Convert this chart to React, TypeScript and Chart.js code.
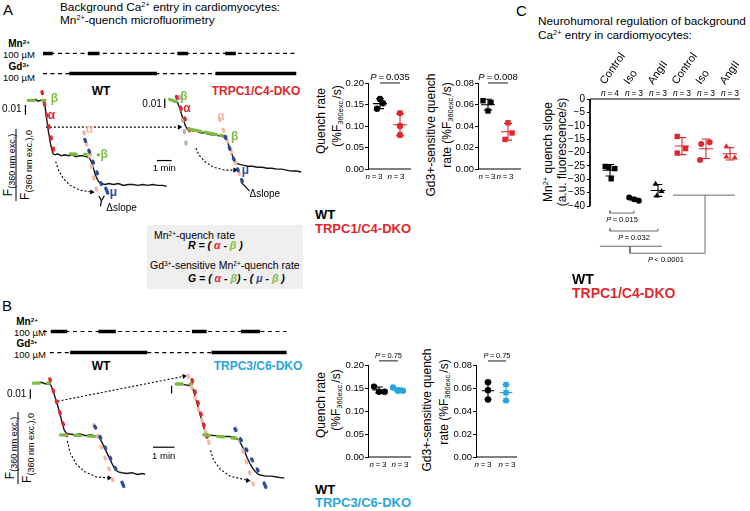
import React, { useEffect, useRef } from 'react';
import { Chart, registerables } from 'chart.js';

Chart.register(...registerables);

const FONT = '"Liberation Sans", Arial, Helvetica, sans-serif';
Chart.defaults.font.family = FONT;
Chart.defaults.color = '#000';

const RED = '#e2262b';
const CYAN = '#27a5df';
const GREEN = '#7bbd44';
const PINK = '#f5b8a4';
const BLUE = '#2c4b9b';
const LGRAY = '#b5b5b5';
const BRK = '#6a6a6a';

type Pt = [number, number];

// ================= DATA =================
// Panels A/B dot plots: quench rates (%F360exc./s)
const abN = [3, 3];
const aQuenchWT = [0.140, 0.163, 0.153];
const aQuenchDKO = [0.130, 0.100, 0.079];
const aGdWT = [0.0635, 0.062, 0.054];
const aGdDKO = [0.043, 0.0335, 0.0275];
const aQuenchP = '0.035';
const aGdP = '0.008';
const bQuenchWT = [0.153, 0.142, 0.142];
const bQuenchDKO = [0.151, 0.144, 0.144];
const bGdWT = [0.065, 0.058, 0.050];
const bGdDKO = [0.063, 0.056, 0.049];
const bQuenchP = '0.75';
const bGdP = '0.75';
const quenchTicks = [0, 0.05, 0.1, 0.15, 0.2];
const gdTicks = [0, 0.02, 0.04, 0.06, 0.08];

// Panel C: Mn2+ quench slope (a.u. fluorescence/s)
const cCategories = ['Control', 'Iso', 'AngII', 'Control', 'Iso', 'AngII'];
const cN = [4, 3, 3, 3, 3, 3];
const cWTControl = [-25.2, -25.5, -26.0, -29.8];
const cWTIso = [-36.8, -37.4, -38.0];
const cWTAngII = [-31.8, -34.5, -36.2];
const cDKOControl = [-14.0, -18.5, -20.2];
const cDKOIso = [-16.8, -16.2, -22.8];
const cDKOAngII = [-17.8, -21.6, -22.0];
const cTicks = [0, -5, -10, -15, -20, -25, -30, -35, -40];
const cPValues = ['= 0.015', '= 0.032', '< 0.0001'];

// Panel A traces: [time (s), F/F0]
const aTraceWT: Pt[] = [[20, 1.000], [30, 1.001], [40, 0.999], [50, 1.000], [60, 1.000], [66, 0.998], [70, 0.991], [74, 0.983], [78, 0.975], [82, 0.968], [86, 0.962], [90, 0.956], [94, 0.951], [98, 0.947], [102, 0.944], [110, 0.943], [120, 0.944], [135, 0.942], [150, 0.943], [165, 0.942], [180, 0.943], [195, 0.941], [210, 0.942], [225, 0.942], [240, 0.941], [250, 0.940], [256, 0.937], [262, 0.933], [268, 0.928], [274, 0.923], [280, 0.919], [286, 0.916], [292, 0.914], [300, 0.913], [315, 0.912], [330, 0.913], [350, 0.912], [370, 0.913], [390, 0.911], [410, 0.912], [430, 0.912], [450, 0.911], [470, 0.912], [490, 0.911], [510, 0.912], [530, 0.911], [550, 0.911], [568, 0.910]];
const aTraceDKO: Pt[] = [[580, 1.001], [592, 1.000], [604, 0.999], [612, 0.998], [620, 0.993], [628, 0.986], [636, 0.980], [644, 0.974], [652, 0.970], [660, 0.969], [675, 0.968], [690, 0.968], [705, 0.966], [720, 0.966], [735, 0.965], [750, 0.964], [765, 0.964], [780, 0.963], [795, 0.962], [808, 0.962], [816, 0.958], [824, 0.952], [832, 0.946], [840, 0.941], [848, 0.937], [856, 0.934], [868, 0.933], [885, 0.932], [900, 0.931], [920, 0.931], [940, 0.930], [960, 0.930], [980, 0.929], [1000, 0.929], [1020, 0.928], [1040, 0.928], [1060, 0.927], [1080, 0.926], [1100, 0.926], [1120, 0.925]];
// Panel A perfusion protocol (s)
const aMnSpan: Pt = [60, 1100];
const aMnPulses: Pt[] = [[60, 100], [244, 292], [612, 656], [808, 852]];
const aGdSpan: Pt = [60, 1100];
const aGdOn: Pt[] = [[168, 528], [768, 1100]];

// Panel B traces: [time (s), F/F0]
const bTraceWT: Pt[] = [[22, 1.000], [35, 1.001], [50, 0.999], [60, 0.999], [64, 0.997], [70, 0.990], [76, 0.982], [82, 0.974], [88, 0.965], [94, 0.955], [100, 0.946], [106, 0.942], [115, 0.941], [130, 0.940], [145, 0.941], [160, 0.939], [175, 0.940], [190, 0.938], [198, 0.937], [204, 0.933], [212, 0.926], [220, 0.919], [228, 0.912], [236, 0.905], [244, 0.899], [252, 0.897], [262, 0.896], [275, 0.895], [290, 0.896], [305, 0.894], [320, 0.895], [327, 0.894]];
const bTraceDKO: Pt[] = [[414, 0.999], [425, 0.999], [440, 0.998], [455, 0.997], [460, 0.994], [466, 0.986], [472, 0.977], [478, 0.968], [484, 0.959], [490, 0.950], [496, 0.942], [505, 0.940], [520, 0.939], [535, 0.939], [550, 0.938], [565, 0.938], [580, 0.937], [588, 0.934], [596, 0.929], [604, 0.922], [612, 0.914], [620, 0.907], [628, 0.901], [636, 0.897], [644, 0.894], [652, 0.893], [665, 0.892], [680, 0.892], [695, 0.891], [710, 0.890], [717, 0.890]];
const bMnSpan: Pt = [41, 723];
const bMnPulses: Pt[] = [[63, 109], [196, 245], [458, 499], [595, 649]];
const bGdSpan: Pt = [60, 723];
const bGdOn: Pt[] = [[117, 333], [513, 723]];

// slope-fit segments (time, F)
const aAlphaWT: Pt[] = [[56, 1.009], [108, 0.942]];
const aBeta1WT: Pt[] = [[0, 1.0], [68, 1.0]];
const aBeta2WT: Pt[] = [[172, 0.944], [288, 0.943]];
const aAlpha2WT: Pt[] = [[228, 0.967], [280, 0.906]];
const aMuWT: Pt[] = [[232, 0.959], [300, 0.912]];
const aMu2WT: Pt[] = [[318, 0.908], [326, 0.903]];
const aBeta1DKO: Pt[] = [[580, 1.001], [612, 0.998]];
const aGrayDKO: Pt[] = [[620, 1.004], [648, 0.954]];
const aAlphaDKO: Pt[] = [[608, 1.004], [668, 0.964]];
const aBeta2DKO: Pt[] = [[660, 0.970], [812, 0.962]];
const aAlpha2DKO: Pt[] = [[784, 0.981], [872, 0.919]];
const aMuDKO: Pt[] = [[808, 0.962], [888, 0.909]];

const bBeta1WT: Pt[] = [[14, 1.0], [60, 1.0]];
const bAlphaWT: Pt[] = [[60, 1.005], [110, 0.935]];
const bBeta2WT: Pt[] = [[90, 0.940], [196, 0.938]];
const bAlpha2WT: Pt[] = [[183, 0.952], [240, 0.883]];
const bMuWT: Pt[] = [[186, 0.950], [246, 0.899]];
const bMu2WT: Pt[] = [[262, 0.885], [267, 0.880]];
const bBeta1DKO: Pt[] = [[414, 0.999], [458, 0.999]];
const bAlphaDKO: Pt[] = [[458, 1.004], [505, 0.930]];
const bAlpha1bDKO: Pt[] = [[447, 1.009], [510, 0.925]];
const bBeta2DKO: Pt[] = [[491, 0.940], [581, 0.936]];
const bMuDKO: Pt[] = [[578, 0.947], [649, 0.894]];
const bMu2DKO: Pt[] = [[660, 0.884], [665, 0.879]];
const bAlpha2DKO: Pt[] = [[581, 0.948], [633, 0.878]];

// ================= HELPERS =================
const fnt = (size: number, bold = false, italic = false) =>
  `${italic ? 'italic ' : ''}${bold ? 'bold ' : ''}${size}px ${FONT}`;

type Part = { t: string; f: string; c?: string; dy?: number };
type TItem = { x: number; y: number; xs?: string; ys?: string; parts: Part[]; al?: 'left' | 'center' | 'right'; rot?: number; dx?: number; dyp?: number };

function textPlugin(items: TItem[]) {
  return {
    id: 'txt',
    afterDatasetsDraw(chart: any) {
      const ctx = chart.ctx;
      items.forEach((it) => {
        const px = chart.scales[it.xs || 'x'].getPixelForValue(it.x) + (it.dx || 0);
        const py = chart.scales[it.ys || 'y'].getPixelForValue(it.y) + (it.dyp || 0);
        ctx.save();
        ctx.translate(px, py);
        if (it.rot) ctx.rotate((it.rot * Math.PI) / 180);
        ctx.textBaseline = 'alphabetic';
        ctx.textAlign = 'left';
        const ws = it.parts.map((p) => { ctx.font = p.f; return ctx.measureText(p.t).width; });
        const tot = ws.reduce((a, b) => a + b, 0);
        let cx = it.al === 'center' ? -tot / 2 : it.al === 'right' ? -tot : 0;
        it.parts.forEach((p, i) => {
          ctx.font = p.f;
          ctx.fillStyle = p.c || '#000';
          ctx.fillText(p.t, cx, p.dy || 0);
          cx += ws[i];
        });
        ctx.restore();
      });
    },
  };
}

const xy = (pts: Pt[]) => pts.map(([x, y]) => ({ x, y }));

function baseOpts(extra: any) {
  return {
    responsive: false,
    animation: false,
    events: [],
    plugins: { legend: { display: false }, tooltip: { enabled: false } },
    elements: { line: { tension: 0 } },
    ...extra,
  };
}

function lineDS(data: any[], color: string, width: number, extra: any = {}) {
  return {
    type: 'line', data, borderColor: color, backgroundColor: color, borderWidth: width,
    pointRadius: 0, spanGaps: false, clip: false, fill: false, ...extra,
  };
}

// ---------- trace panels ----------
interface TraceSpec {
  top: number; W: number; H: number;
  x0: number; pxPerS: number; F0py: number; pxPerF: number;
  row0: number; rowStep: number;
  traces: Pt[][];
  protocol: { row: number; span: Pt; thick: Pt[] }[];
  marks: { pts: Pt[]; color: string; dash?: number[]; w?: number }[];
  arrows: { pts: Pt[]; rot: number }[];
  lines: Pt[][];
  texts: TItem[];
}

function traceCfg(s: TraceSpec) {
  const ds: any[] = [];
  s.protocol.forEach((p) => {
    ds.push(lineDS([{ x: p.span[0], y: p.row }, { x: p.span[1], y: p.row }], '#000', 1.2, { yAxisID: 'y2', borderDash: [4, 3.5] }));
    const d: any[] = [];
    p.thick.forEach(([a, b]) => d.push({ x: a, y: p.row }, { x: b, y: p.row }, { x: b, y: null }));
    ds.push(lineDS(d, '#000', 3.6, { yAxisID: 'y2' }));
  });
  s.traces.forEach((tr) => ds.push(lineDS(xy(tr), '#151515', 1.4)));
  s.lines.forEach((ln) => ds.push(lineDS(xy(ln), '#000', 1.2)));
  s.arrows.forEach((a) => ds.push(lineDS(xy(a.pts), '#000', 1.1, {
    borderDash: [2, 2],
    pointRadius: a.pts.map((_, i) => (i === a.pts.length - 1 ? 3 : 0)),
    pointStyle: 'triangle',
    pointRotation: a.pts.map(() => a.rot),
    pointBackgroundColor: '#000',
    pointBorderWidth: 0,
  })));
  s.marks.forEach((m) => ds.push(lineDS(xy(m.pts), m.color, m.w || 3.3, { borderDash: m.dash || [2, 9.5], borderCapStyle: 'round' })));
  const xmin = (0 - s.x0) / s.pxPerS;
  const xmax = (s.W - s.x0) / s.pxPerS;
  const ymax = 1 + (s.F0py - s.top) / s.pxPerF;
  const ymin = 1 - (s.top + s.H - s.F0py) / s.pxPerF;
  const y2min = (s.top - s.row0) / s.rowStep;
  const y2max = (s.top + s.H - s.row0) / s.rowStep;
  return {
    type: 'line',
    data: { datasets: ds.slice().reverse() },
    options: baseOpts({
      layout: { padding: 0 },
      scales: {
        x: { type: 'linear', display: false, min: xmin, max: xmax },
        y: { type: 'linear', display: false, min: ymin, max: ymax },
        y2: { type: 'linear', display: false, min: y2min, max: y2max, reverse: true },
      },
    }),
    plugins: [textPlugin(s.texts)],
  };
}

// ---------- dot plots ----------
function meanSD(v: number[]) {
  const m = v.reduce((a, b) => a + b, 0) / v.length;
  const sd = Math.sqrt(v.reduce((a, b) => a + (b - m) ** 2, 0) / (v.length - 1));
  return [m, sd];
}
function errData(i: number, vals: number[], hw: number, cw: number) {
  const [m, s] = meanSD(vals);
  return [
    { x: i - hw, y: m }, { x: i + hw, y: m }, { x: i, y: null },
    { x: i, y: m - s }, { x: i, y: m + s }, { x: i, y: null },
    { x: i - cw, y: m + s }, { x: i + cw, y: m + s }, { x: i, y: null },
    { x: i - cw, y: m - s }, { x: i + cw, y: m - s },
  ];
}
type Group = { vals: number[]; offs: number[]; color: string; style: string; r?: number; mc?: string };
const pointDS = (g: Group, i: number) => ({
  type: 'line', showLine: false, clip: false,
  data: g.vals.map((v, k) => ({ x: i + g.offs[k], y: v })),
  pointStyle: g.style, pointRadius: g.r || 3.2, pointBackgroundColor: g.color, pointBorderColor: g.color, pointBorderWidth: 0,
});

interface DotSpec {
  axisL: number; axisR: number; topPy: number; botPy: number; c0: number; c1: number;
  ticks: number[]; dec: number; groups: Group[];
  p: string; pLine: number; pSize: number; nSize: number; nDx: number[]; tickSize: number;
}
const dotGeom = (s: DotSpec) => ({ l: s.axisL - 40, t: s.topPy - 24, w: s.axisR - s.axisL + 44, h: s.botPy - s.topPy + 42 });
const TS = '\u2009';

function dotCfg(s: DotSpec) {
  const unit = s.c1 - s.c0;
  const xmin = (s.axisL - s.c0) / unit;
  const xmax = (s.axisR - s.c0) / unit;
  const ds: any[] = [];
  ds.push(lineDS([{ x: xmin, y: 0 }, { x: xmax, y: 0 }], '#000', 1));
  ds.push(lineDS([{ x: 0, y: s.pLine }, { x: 1, y: s.pLine }], '#000', 0.9));
  s.groups.forEach((g, i) => {
    ds.push(pointDS(g, i));
    ds.push(lineDS(errData(i, g.vals, 0.35, 0.2), g.mc || g.color, 1.1));
  });
  const texts: TItem[] = [
    { x: 0.5, y: s.pLine, dyp: -3, al: 'center', parts: [{ t: 'P', f: fnt(s.pSize, false, true) }, { t: `${TS}=${TS}${s.p}`, f: fnt(s.pSize) }] },
    ...abN.map((n, i) => ({ x: i, y: 0, dyp: 10, dx: s.nDx[i], al: 'center' as const, parts: [{ t: 'n', f: fnt(s.nSize, false, true) }, { t: `${TS}=${TS}${n}`, f: fnt(s.nSize) }] })),
  ];
  const yMax = s.ticks[s.ticks.length - 1];
  return {
    type: 'line',
    data: { datasets: ds },
    options: baseOpts({
      layout: { padding: { left: 10, right: 4, top: 24, bottom: 18 } },
      scales: {
        x: { type: 'linear', display: false, min: xmin, max: xmax },
        y: {
          type: 'linear', min: 0, max: yMax,
          afterFit: (sc: any) => { sc.width = 30; },
          afterBuildTicks: (sc: any) => { sc.ticks = s.ticks.map((v) => ({ value: v })); },
          ticks: { font: { size: s.tickSize }, color: '#000', padding: 1, callback: (v: any) => Number(v).toFixed(s.dec) },
          grid: { display: true, drawOnChartArea: false, drawTicks: true, tickLength: 3, color: '#000', lineWidth: 1 },
          border: { display: true, color: '#000', width: 1 },
        },
      },
    }),
    plugins: [textPlugin(texts)],
  };
}

// ---------- panel C ----------
const C_BOX = { l: 560, t: 40, w: 185, h: 235 };
function cCfg() {
  const c0 = 610, unit = 24, axisL = 590, axisR = 740;
  const xmin = (axisL - c0) / unit;
  const xmax = (axisR - c0) / unit;
  const groups: Group[] = [
    { vals: cWTControl, offs: [-0.2, -0.05, 0.2, 0.05], color: '#000', style: 'rect', r: 3.8 },
    { vals: cWTIso, offs: [-0.2, 0, 0.2], color: '#000', style: 'circle', r: 3, mc: '#888' },
    { vals: cWTAngII, offs: [-0.1, 0.15, -0.05], color: '#000', style: 'triangle', r: 3.4 },
    { vals: cDKOControl, offs: [-0.2, 0.15, -0.2], color: RED, style: 'rect', r: 3.8 },
    { vals: cDKOIso, offs: [-0.2, 0.15, -0.25], color: RED, style: 'circle', r: 3 },
    { vals: cDKOAngII, offs: [-0.15, -0.15, 0.2], color: RED, style: 'triangle', r: 3.4 },
  ];
  const ds: any[] = [];
  ds.push(lineDS([{ x: xmin, y: 0 }, { x: xmin, y: cTicks[cTicks.length - 1] }], '#000', 1));
  ds.push(lineDS([{ x: xmin, y: 0 }, { x: xmax, y: 0 }], '#000', 1));
  groups.forEach((g, i) => {
    ds.push(pointDS(g, i));
    ds.push(lineDS(errData(i, g.vals, 0.3, 0.18), g.mc || g.color, 1.1));
  });
  // significance brackets
  ds.push(lineDS(xy([[0, -41.7], [0, -42.6], [1, -42.6], [1, -41.7]]), BRK, 1));
  ds.push(lineDS(xy([[0, -48.4], [0, -49.3], [2, -49.3], [2, -48.4]]), BRK, 1));
  ds.push(lineDS(xy([[-0.42, -55], [2.17, -55]]), BRK, 1));
  ds.push(lineDS(xy([[0.83, -55], [0.83, -57.6], [3.96, -57.6], [3.96, -35.9]]), BRK, 1));
  ds.push(lineDS(xy([[2.63, -35.9], [5.2, -35.9]]), BRK, 1));
  const ps = 7.5;
  const texts: TItem[] = [
    ...cCategories.map((c, i) => ({ x: i, y: 0, dx: -5, dyp: -14, rot: -55, parts: [{ t: c, f: fnt(11) }] })),
    ...cN.map((n, i) => ({ x: i, y: 0, dyp: -3, al: 'center' as const, parts: [{ t: 'n', f: fnt(8.5, false, true) }, { t: `${TS}=${TS}${n}`, f: fnt(8.5) }] })),
    { x: 0.5, y: -45.9, al: 'center', parts: [{ t: 'P', f: fnt(ps, false, true) }, { t: `${TS}${cPValues[0]}`, f: fnt(ps) }] },
    { x: 1.0, y: -52.6, al: 'center', parts: [{ t: 'P', f: fnt(ps, false, true) }, { t: `${TS}${cPValues[1]}`, f: fnt(ps) }] },
    { x: 2.33, y: -60.8, al: 'center', parts: [{ t: 'P', f: fnt(ps, false, true) }, { t: `${TS}${cPValues[2]}`, f: fnt(ps) }] },
  ];
  return {
    type: 'line',
    data: { datasets: ds },
    options: baseOpts({
      layout: { padding: { left: 0, right: 5, top: 59, bottom: 10 } },
      scales: {
        x: { type: 'linear', display: false, min: xmin, max: xmax },
        y: {
          type: 'linear', min: -62, max: 0,
          afterFit: (sc: any) => { sc.width = 30; },
          afterBuildTicks: (sc: any) => { sc.ticks = cTicks.map((v) => ({ value: v })); },
          ticks: { font: { size: 10 }, color: '#000', padding: 2, callback: (v: any) => (Number(v) === 0 ? '0' : '\u2212' + Math.abs(Number(v))) },
          grid: { display: true, drawOnChartArea: false, drawTicks: true, tickLength: 3, color: '#000', lineWidth: 1 },
          border: { display: false },
        },
      },
    }),
    plugins: [textPlugin(texts)],
  };
}

// ---------- specs ----------
const greek = (t: string, c: string, x: number, y: number): TItem => ({ x, y, parts: [{ t, f: fnt(12, true), c }] });

const A_TRACE: TraceSpec = {
  top: 38, W: 310, H: 182, x0: 25, pxPerS: 0.25, F0py: 99, pxPerF: 1000, row0: 50, rowStep: 21,
  traces: [aTraceWT, aTraceDKO],
  protocol: [{ row: 0, span: aMnSpan, thick: aMnPulses }, { row: 1, span: aGdSpan, thick: aGdOn }],
  marks: [
    { pts: aBeta1WT, color: GREEN, dash: [6, 8] },
    { pts: aAlphaWT, color: RED },
    { pts: aBeta2WT, color: GREEN, dash: [6, 8] },
    { pts: aAlpha2WT, color: PINK },
    { pts: aMuWT, color: BLUE },
    { pts: aMu2WT, color: BLUE, dash: [] },
    { pts: aBeta1DKO, color: GREEN, dash: [7, 5] },
    { pts: aGrayDKO, color: LGRAY },
    { pts: aAlphaDKO, color: RED },
    { pts: aBeta2DKO, color: GREEN, dash: [12, 4] },
    { pts: aAlpha2DKO, color: PINK },
    { pts: aMuDKO, color: BLUE },
  ],
  arrows: [
    { pts: [[72, 0.972], [620, 0.972]], rot: 90 },
    { pts: [[112, 0.936], [124, 0.927], [144, 0.918], [172, 0.911], [212, 0.906], [260, 0.904]], rot: 95 },
    { pts: [[688, 0.950], [700, 0.943], [724, 0.936], [760, 0.930], [808, 0.927], [848, 0.927]], rot: 90 },
  ],
  lines: [
    [[-12, 0.995], [-12, 0.985]],
    [[560, 1.002], [560, 0.992]],
    [[528, 0.937], [588, 0.937]],
    [[290, 0.900], [300, 0.895]], [[312, 0.900], [300, 0.895]], [[300, 0.895], [296, 0.889]],
    [[872, 0.915], [908, 0.905]],
  ],
  texts: [
    { x: -28, y: 0.988, al: 'right', parts: [{ t: '0.01', f: fnt(10) }] },
    { x: 548, y: 0.993, al: 'right', parts: [{ t: '0.01', f: fnt(10) }] },
    { x: 558, y: 0.926, al: 'center', parts: [{ t: '1 min', f: fnt(9.5) }] },
    greek('β', GREEN, 92, 0.998),
    greek('α', RED, 80, 0.980),
    greek('α', PINK, 236, 0.966),
    greek('β', GREEN, 296, 0.940),
    greek('μ', BLUE, 334, 0.900),
    { x: 320, y: 0.884, parts: [{ t: 'Δslope', f: fnt(10) }] },
    greek('β', GREEN, 624, 1.0),
    greek('α', RED, 636, 0.988),
    greek('α', PINK, 776, 0.979),
    greek('β', GREEN, 832, 0.958),
    greek('μ', BLUE, 876, 0.923),
    { x: 908, y: 0.899, parts: [{ t: 'Δslope', f: fnt(10) }] },
  ],
};

const B_TRACE: TraceSpec = {
  top: 316, W: 310, H: 185, x0: 25, pxPerS: 22 / 60, F0py: 382, pxPerF: 900, row0: 328, rowStep: 22,
  traces: [bTraceWT, bTraceDKO],
  protocol: [{ row: 0, span: bMnSpan, thick: bMnPulses }, { row: 1, span: bGdSpan, thick: bGdOn }],
  marks: [
    { pts: bBeta1WT, color: GREEN, dash: [6, 8] },
    { pts: bAlphaWT, color: RED },
    { pts: bBeta2WT, color: GREEN, dash: [6, 8] },
    { pts: bAlpha2WT, color: PINK },
    { pts: bMuWT, color: BLUE },
    { pts: bMu2WT, color: BLUE, dash: [] },
    { pts: bBeta1DKO, color: GREEN, dash: [6, 8] },
    { pts: bAlpha1bDKO, color: PINK },
    { pts: bAlphaDKO, color: RED },
    { pts: bBeta2DKO, color: GREEN, dash: [6, 8] },
    { pts: bAlpha2DKO, color: PINK },
    { pts: bMuDKO, color: BLUE },
    { pts: bMu2DKO, color: BLUE, dash: [] },
  ],
  arrows: [
    { pts: [[82, 0.979], [436, 1.008]], rot: 79 },
    { pts: [[109, 0.933], [117, 0.919], [134, 0.906], [158, 0.897], [191, 0.891], [226, 0.890]], rot: 92 },
    { pts: [[510, 0.922], [518, 0.911], [537, 0.900], [565, 0.892], [614, 0.887]], rot: 95 },
  ],
  lines: [
    [[5.5, 0.993], [5.5, 0.982]],
    [[401, 0.997], [401, 0.988]],
    [[349, 0.9256], [409, 0.9256]],
  ],
  texts: [
    { x: -5.5, y: 0.9844, al: 'right', parts: [{ t: '0.01', f: fnt(10) }] },
    { x: 379, y: 0.9122, al: 'center', parts: [{ t: '1 min', f: fnt(9.5) }] },
  ],
};

const A_Q: DotSpec = {
  axisL: 368, axisR: 411, topPy: 83, botPy: 169, c0: 380, c1: 400, ticks: quenchTicks, dec: 2,
  groups: [
    { vals: aQuenchWT, offs: [-0.15, 0, 0.15], color: '#000', style: 'circle' },
    { vals: aQuenchDKO, offs: [0, 0, 0], color: RED, style: 'circle' },
  ],
  p: aQuenchP, pLine: 0.2, pSize: 9.5, nSize: 8, nDx: [-6, -4], tickSize: 9.5,
};
const A_G: DotSpec = {
  axisL: 478, axisR: 521, topPy: 83, botPy: 169, c0: 488, c1: 508, ticks: gdTicks, dec: 2,
  groups: [
    { vals: aGdWT, offs: [-0.25, 0.15, 0], color: '#000', style: 'rect', r: 3.8 },
    { vals: aGdDKO, offs: [0, 0.2, -0.15], color: RED, style: 'rect', r: 3.8 },
  ],
  p: aGdP, pLine: 0.08, pSize: 9.5, nSize: 8, nDx: [-1, -3], tickSize: 9.5,
};
const B_Q: DotSpec = {
  axisL: 368, axisR: 411, topPy: 365, botPy: 457, c0: 379, c1: 398, ticks: quenchTicks, dec: 2,
  groups: [
    { vals: bQuenchWT, offs: [-0.26, 0, 0.3], color: '#000', style: 'circle' },
    { vals: bQuenchDKO, offs: [-0.26, 0, 0.26], color: CYAN, style: 'circle' },
  ],
  p: bQuenchP, pLine: 0.209, pSize: 7.5, nSize: 8, nDx: [-1, 2], tickSize: 9.5,
};
const B_G: DotSpec = {
  axisL: 476, axisR: 517, topPy: 365, botPy: 457, c0: 488, c1: 506, ticks: gdTicks, dec: 2,
  groups: [
    { vals: bGdWT, offs: [0, 0, 0], color: '#000', style: 'circle' },
    { vals: bGdDKO, offs: [0, 0, 0], color: CYAN, style: 'rect', r: 3.8 },
  ],
  p: bGdP, pLine: 0.0835, pSize: 7.5, nSize: 8, nDx: [-5, 1], tickSize: 9.5,
};

// ================= COMPONENTS =================
function ChartBox({ l, t, w, h, cfg }: { l: number; t: number; w: number; h: number; cfg: () => any }) {
  const ref = useRef<HTMLCanvasElement>(null);
  useEffect(() => {
    if (!ref.current) return;
    const ch = new Chart(ref.current, cfg());
    return () => ch.destroy();
  }, []);
  return <canvas ref={ref} width={w} height={h} style={{ position: 'absolute', left: l, top: t, width: w, height: h }} />;
}

const Sup = ({ children }: any) => <span style={{ fontSize: '0.62em', position: 'relative', top: '-0.5em' }}>{children}</span>;
const Sub = ({ children, k = 0.62 }: any) => <span style={{ fontSize: `${k}em`, position: 'relative', top: '0.3em' }}>{children}</span>;

function L({ x, y, s = 11, b = false, c = '#000', a = 'left', it = false, children }: any) {
  const tx = a === 'left' ? '0' : a === 'center' ? '-50%' : '-100%';
  return (
    <div style={{ position: 'absolute', left: x, top: y, transform: `translate(${tx},-50%)`, fontSize: s, fontWeight: b ? 'bold' : 'normal', fontStyle: it ? 'italic' : 'normal', color: c, whiteSpace: 'nowrap', lineHeight: 1.15 }}>
      {children}
    </div>
  );
}
function V({ x, y, s = 12, children }: any) {
  return (
    <div style={{ position: 'absolute', left: x, top: y, transform: 'translate(-50%,-50%) rotate(-90deg)', fontSize: s, whiteSpace: 'nowrap', lineHeight: 1.15 }}>
      {children}
    </div>
  );
}
function Frac({ x, y }: any) {
  return (
    <div style={{ position: 'absolute', left: x, top: y, transform: 'translate(-50%,-50%) rotate(-90deg)', whiteSpace: 'nowrap', lineHeight: 1.0, textAlign: 'center' }}>
      <div style={{ fontSize: 12, padding: '0 1px 2px', borderBottom: '1px solid #000' }}>F<Sub k={0.75}>(360 nm exc.)</Sub></div>
      <div style={{ fontSize: 12, padding: '2px 1px 0' }}>F<Sub k={0.75}>(360 nm exc.),0</Sub></div>
    </div>
  );
}

function Dot({ spec }: { spec: DotSpec }) {
  const g = dotGeom(spec);
  return <ChartBox l={g.l} t={g.t} w={g.w} h={g.h} cfg={() => dotCfg(spec)} />;
}

const BI = ({ c, children }: any) => <span style={{ color: c, fontWeight: 'bold', fontStyle: 'italic' }}>{children}</span>;

export default function App() {
  return (
    <div style={{ position: 'absolute', left: 0, top: 0, width: 750, height: 511, background: '#fff', overflow: 'hidden', fontFamily: FONT, color: '#000' }}>
      {/* ---------------- Panel A ---------------- */}
      <L x={3} y={10} s={15}>A</L>
      <L x={60} y={8} s={11.8}>Background Ca<Sup>2+</Sup> entry in cardiomyocytes:</L>
      <L x={60} y={21} s={11.8}>Mn<Sup>2+</Sup>-quench microfluorimetry</L>
      <L x={19} y={44} s={10} b a="center">Mn<Sup>2+</Sup></L>
      <L x={19} y={55} s={9.5} a="center">100 µM</L>
      <L x={19} y={67} s={10} b a="center">Gd<Sup>3+</Sup></L>
      <L x={19} y={78} s={9.5} a="center">100 µM</L>
      <L x={101} y={92} s={12} b a="center">WT</L>
      <L x={256} y={92} s={12} b c={RED} a="center">TRPC1/C4-DKO</L>
      <Frac x={16} y={165} />
      <ChartBox l={0} t={A_TRACE.top} w={A_TRACE.W} h={A_TRACE.H} cfg={() => traceCfg(A_TRACE)} />

      <V x={322} y={121}>Quench rate</V>
      <V x={338} y={116}>(%F<Sub>360exc.</Sub>/s)</V>
      <Dot spec={A_Q} />
      <V x={432} y={135}>Gd3+-sensitive quench</V>
      <V x={448} y={125}>rate (%F<Sub>360exc.</Sub>/s)</V>
      <Dot spec={A_G} />

      <L x={315} y={215} s={13} b>WT</L>
      <L x={315} y={229} s={13} b c={RED}>TRPC1/C4-DKO</L>

      <div style={{ position: 'absolute', left: 147, top: 225, width: 156, height: 64, background: '#efefef' }} />
      <L x={154} y={235} s={10.5}>Mn<Sup>2+</Sup>-quench rate</L>
      <L x={188} y={245} s={10.5}><BI c="#000">R = ( </BI><BI c={RED}>α</BI><BI c="#000"> - </BI><BI c={GREEN}>β</BI><BI c="#000"> )</BI></L>
      <L x={150} y={265} s={10.5}>Gd<Sup>3+</Sup>-sensitive Mn<Sup>2+</Sup>-quench rate</L>
      <L x={188} y={278} s={10.5}><BI c="#000">G = ( </BI><BI c={RED}>α</BI><BI c="#000"> - </BI><BI c={GREEN}>β</BI><BI c="#000">) - ( </BI><BI c={BLUE}>μ</BI><BI c="#000"> - </BI><BI c={GREEN}>β</BI><BI c="#000"> )</BI></L>

      {/* ---------------- Panel B ---------------- */}
      <L x={2} y={306} s={15}>B</L>
      <L x={27} y={322} s={10} b a="center">Mn<Sup>2+</Sup></L>
      <L x={30} y={333} s={9.5} a="center">100 µM</L>
      <L x={27} y={344} s={10} b a="center">Gd<Sup>3+</Sup></L>
      <L x={30} y={355} s={9.5} a="center">100 µM</L>
      <L x={101} y={367} s={12} b a="center">WT</L>
      <L x={258} y={367} s={12} b c={CYAN} a="center">TRPC3/C6-DKO</L>
      <Frac x={18} y={448} />
      <ChartBox l={0} t={B_TRACE.top} w={B_TRACE.W} h={B_TRACE.H} cfg={() => traceCfg(B_TRACE)} />

      <V x={322} y={405}>Quench rate</V>
      <V x={337} y={400}>(%F<Sub>360exc.</Sub>/s)</V>
      <Dot spec={B_Q} />
      <V x={428} y={410}>Gd3+-sensitive quench</V>
      <V x={445} y={402}>rate (%F<Sub>360exc.</Sub>/s)</V>
      <Dot spec={B_G} />

      <L x={315} y={490} s={13} b>WT</L>
      <L x={315} y={503} s={13} b c={CYAN}>TRPC3/C6-DKO</L>

      {/* ---------------- Panel C ---------------- */}
      <L x={516} y={11} s={15}>C</L>
      <L x={538} y={22} s={11.8}>Neurohumoral regulation of background</L>
      <L x={538} y={36} s={11.8}>Ca<Sup>2+</Sup> entry in cardiomyocytes:</L>
      <V x={549} y={152}>Mn<Sup>2+</Sup> quench slope</V>
      <V x={563} y={152}>(a.u. fluorescence/s)</V>
      <ChartBox l={C_BOX.l} t={C_BOX.t} w={C_BOX.w} h={C_BOX.h} cfg={cCfg} />
      <L x={572} y={279} s={14} b>WT</L>
      <L x={572} y={293} s={14} b c={RED}>TRPC1/C4-DKO</L>
    </div>
  );
}
